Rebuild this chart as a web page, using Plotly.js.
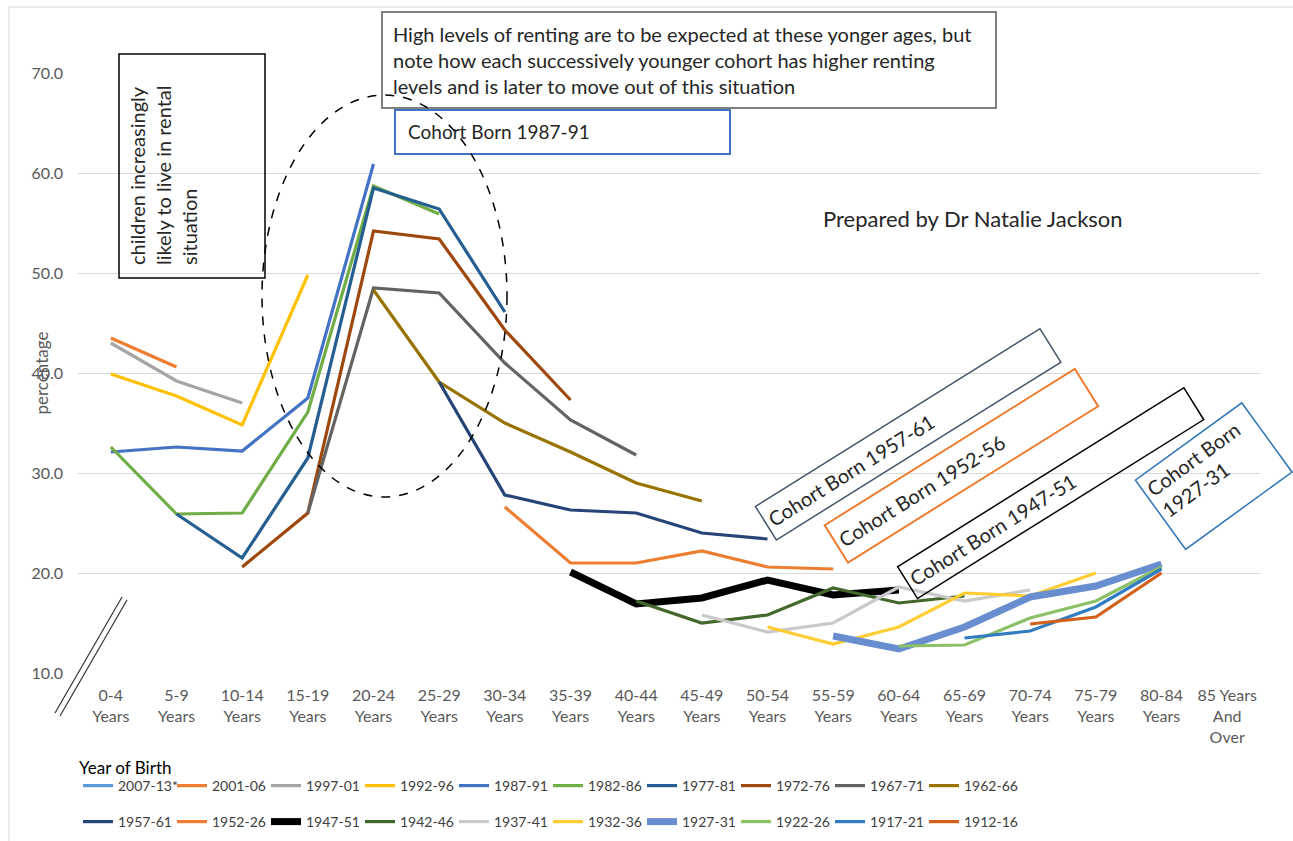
<!DOCTYPE html>
<html>
<head>
<meta charset="utf-8">
<script src="https://cdn.plot.ly/plotly-3.0.1.min.js"></script>
<style>html,body{margin:0;padding:0;background:#fff;}#chart{width:1293px;height:841px;}</style>
</head>
<body>
<div id="chart"></div>
<script>
// ---------- DATA ----------
const ageGroups = ['0-4<br>Years','5-9<br>Years','10-14<br>Years','15-19<br>Years','20-24<br>Years','25-29<br>Years','30-34<br>Years','35-39<br>Years','40-44<br>Years','45-49<br>Years','50-54<br>Years','55-59<br>Years','60-64<br>Years','65-69<br>Years','70-74<br>Years','75-79<br>Years','80-84<br>Years','85 Years<br>And<br>Over'];

const cohortNames = ['2007-13*','2001-06','1997-01','1992-96','1987-91','1982-86','1977-81','1972-76','1967-71','1962-66',
                     '1957-61','1952-26','1947-51','1942-46','1937-41','1932-36','1927-31','1922-26','1917-21','1912-16'];

const c2007 = [null];
const c2001 = [43.5, 40.6];
const c1997 = [43.0, 39.2, 37.0];
const c1992 = [39.9, 37.7, 34.8, 49.8];
const c1987 = [32.1, 32.6, 32.2, 37.5, 60.9];
const c1982 = [32.6, 25.9, 26.0, 36.1, 58.7, 55.9];
const c1977 = [null, 25.9, 21.5, 31.5, 58.5, 56.4, 46.1];
const c1972 = [null, null, 20.6, 26.0, 54.2, 53.4, 44.3, 37.3];
const c1967 = [null, null, null, 26.0, 48.5, 48.0, 41.0, 35.3, 31.8];
const c1962 = [null, null, null, null, 48.3, 39.1, 35.0, 32.1, 29.0, 27.2];
const c1957 = [null, null, null, null, null, 39.1, 27.8, 26.3, 26.0, 24.0, 23.4];
const c1952 = [null, null, null, null, null, null, 26.6, 21.0, 21.0, 22.2, 20.6, 20.4];
const c1947 = [null, null, null, null, null, null, null, 20.1, 16.9, 17.5, 19.3, 17.8, 18.3];
const c1942 = [null, null, null, null, null, null, null, null, 17.2, 15.0, 15.8, 18.5, 17.0, 17.7];
const c1937 = [null, null, null, null, null, null, null, null, null, 15.8, 14.1, 15.0, 18.6, 17.2, 18.3];
const c1932 = [null, null, null, null, null, null, null, null, null, null, 14.6, 12.9, 14.6, 18.0, 17.7, 20.0];
const c1927 = [null, null, null, null, null, null, null, null, null, null, null, 13.7, 12.4, 14.6, 17.6, 18.7, 20.9];
const c1922 = [null, null, null, null, null, null, null, null, null, null, null, null, 12.7, 12.8, 15.5, 17.2, 20.6];
const c1917 = [null, null, null, null, null, null, null, null, null, null, null, null, null, 13.5, 14.2, 16.6, 20.4];
const c1912 = [null, null, null, null, null, null, null, null, null, null, null, null, null, null, 14.9, 15.6, 20.0];

const cohortValues = [c2007,c2001,c1997,c1992,c1987,c1982,c1977,c1972,c1967,c1962,
                      c1957,c1952,c1947,c1942,c1937,c1932,c1927,c1922,c1917,c1912];

// ---------- STYLE ----------
const colors = ['#5B9BD5','#ED7D31','#A5A5A5','#FFC000','#4472C4','#70AD47','#255E91','#9E480E','#636363','#997300',
                '#264478','#ED7D31','#000000','#43682B','#C9C9C9','#FFCD33','#698ED0','#8CC168','#327DC2','#D2601A'];
const widths = [3.2,3.2,3.2,3.2,3.2,3.2,3.2,3.2,3.2,3.2, 3.2,3.2,7,3.2,3.2,3.2,7,3.2,3.2,3.2];

const FONT = 'Lato, "Noto Sans", sans-serif';
const W = 1293, H = 841;
const L = 78, R = 1260, T = 73, B = 673;
const px = x => (x - L) / (R - L);
const py = y => (B - y) / (B - T);
const cy = y => (H - y) / H;

const traces = cohortNames.map((name, i) => ({
  type: 'scatter', mode: 'lines', name: name,
  x: ageGroups.slice(0, Math.max(cohortValues[i].length, 1)),
  y: cohortValues[i],
  line: {color: colors[i], width: widths[i]},
  legend: i < 10 ? 'legend' : 'legend2',
  hoverinfo: 'name+y'
}));

const legendCommon = {
  orientation: 'h', xanchor: 'left', yanchor: 'middle', yref: 'container',
  font: {family: FONT, size: 14, color: '#404040'},
  entrywidth: 49, entrywidthmode: 'pixels', itemwidth: 30,
  bgcolor: 'rgba(0,0,0,0)', traceorder: 'normal'
};

const shapes = [
  {type:'rect', xref:'paper', yref:'paper', x0:px(9), x1:px(1310), y0:py(860), y1:py(7), line:{color:'#D9D9D9', width:1}},
  {type:'rect', xref:'paper', yref:'paper', x0:px(119), x1:px(265), y0:py(278), y1:py(54), line:{color:'#000', width:1.5}},
  {type:'rect', xref:'paper', yref:'paper', x0:px(382), x1:px(996), y0:py(108), y1:py(12), line:{color:'#7F7F7F', width:2}},
  {type:'rect', xref:'paper', yref:'paper', x0:px(395), x1:px(730), y0:py(154), y1:py(110), line:{color:'#4472C4', width:2}},
  {type:'circle', xref:'paper', yref:'paper', x0:px(262), x1:px(507), y0:py(497), y1:py(95), line:{color:'#000', width:1.5, dash:'dash'}},
  {type:'line', xref:'paper', yref:'paper', x0:px(55), y0:py(713), x1:px(122), y1:py(597), line:{color:'#333', width:1.2}},
  {type:'line', xref:'paper', yref:'paper', x0:px(60), y0:py(716), x1:px(127), y1:py(600), line:{color:'#333', width:1.2}}
];

const annotations = [
  {xref:'paper', yref:'paper', x:px(28), y:py(373), text:'percentage', textangle:-90, showarrow:false,
   font:{family:FONT, size:17, color:'#595959'}},
  {xref:'paper', yref:'paper', x:px(77), y:py(768), xanchor:'left', yanchor:'middle', text:'Year of Birth', showarrow:false,
   font:{family:FONT, size:17, color:'#000000'}},
  {xref:'paper', yref:'paper', x:px(391), y:py(60), xanchor:'left', yanchor:'middle', align:'left', showarrow:false,
   text:'High levels of renting are to be expected at these yonger ages, but<br>note how each successively younger cohort has higher renting<br>levels and is later to move out of this situation',
   font:{family:FONT, size:20, color:'#262626'}},
  {xref:'paper', yref:'paper', x:px(406), y:py(131), xanchor:'left', yanchor:'middle', showarrow:false,
   text:'Cohort Born 1987-91', font:{family:FONT, size:19, color:'#262626'}},
  {xref:'paper', yref:'paper', x:px(973), y:py(218), xanchor:'center', yanchor:'middle', showarrow:false,
   text:'Prepared by Dr Natalie Jackson', font:{family:FONT, size:22, color:'#262626'}},
  {xref:'paper', yref:'paper', x:px(163), y:py(175), xanchor:'center', yanchor:'middle', showarrow:false,
   text:'children increasingly<br>likely to live in rental<br>situation', textangle:-90, align:'left',
   font:{family:FONT, size:20, color:'#262626'}},
  {xref:'paper', yref:'paper', x:px(908), y:py(435), xanchor:'center', yanchor:'middle', showarrow:false,
   text:'Cohort Born 1957-61', textangle:-32, align:'left', width:326, height:30, borderpad:4,
   bordercolor:'#44546A', borderwidth:1.5, font:{family:FONT, size:20, color:'#262626'}},
  {xref:'paper', yref:'paper', x:px(961), y:py(466), xanchor:'center', yanchor:'middle', showarrow:false,
   text:'Cohort Born 1952-56', textangle:-32, align:'left', width:285, height:34, borderpad:4,
   bordercolor:'#ED7D31', borderwidth:2, font:{family:FONT, size:20, color:'#262626'}},
  {xref:'paper', yref:'paper', x:px(1050), y:py(493), xanchor:'center', yanchor:'middle', showarrow:false,
   text:'Cohort Born 1947-51', textangle:-32, align:'left', width:328, height:28, borderpad:4,
   bordercolor:'#000000', borderwidth:1.5, font:{family:FONT, size:20, color:'#262626'}},
  {xref:'paper', yref:'paper', x:px(1213), y:py(476), xanchor:'center', yanchor:'middle', showarrow:false,
   text:'Cohort Born<br>1927-31', textangle:-36, align:'left', valign:'top', width:122, height:76, borderpad:4,
   bordercolor:'#2E75B6', borderwidth:1.5, font:{family:FONT, size:20, color:'#262626'}}
];

const layout = {
  width: W, height: H,
  margin: {l: L, r: W - R, t: T, b: H - B, pad: 0},
  paper_bgcolor: '#fff', plot_bgcolor: '#fff',
  font: {family: FONT, color: '#595959'},
  showlegend: true,
  xaxis: {
    type: 'category', categoryorder: 'array', categoryarray: ageGroups,
    range: [-0.5, 17.5], showgrid: false, zeroline: false, showline: false, ticks: '',
    tickfont: {family: FONT, size: 16, color: '#595959'}, ticklabelstandoff: 11, fixedrange: true
  },
  yaxis: {
    range: [10, 70], dtick: 10, tick0: 10, tickformat: '.1f', showgrid: true, gridcolor: '#D9D9D9', gridwidth: 1.3,
    zeroline: false, showline: false, ticks: '', ticklabelstandoff: 14,
    tickfont: {family: FONT, size: 16, color: '#595959'}, fixedrange: true
  },
  legend: Object.assign({}, legendCommon, {x: px(78), y: cy(786)}),
  legend2: Object.assign({}, legendCommon, {x: px(78), y: cy(822)}),
  shapes: shapes,
  annotations: annotations
};

Plotly.newPlot('chart', traces, layout, {displayModeBar: false});
</script>
</body>
</html>
